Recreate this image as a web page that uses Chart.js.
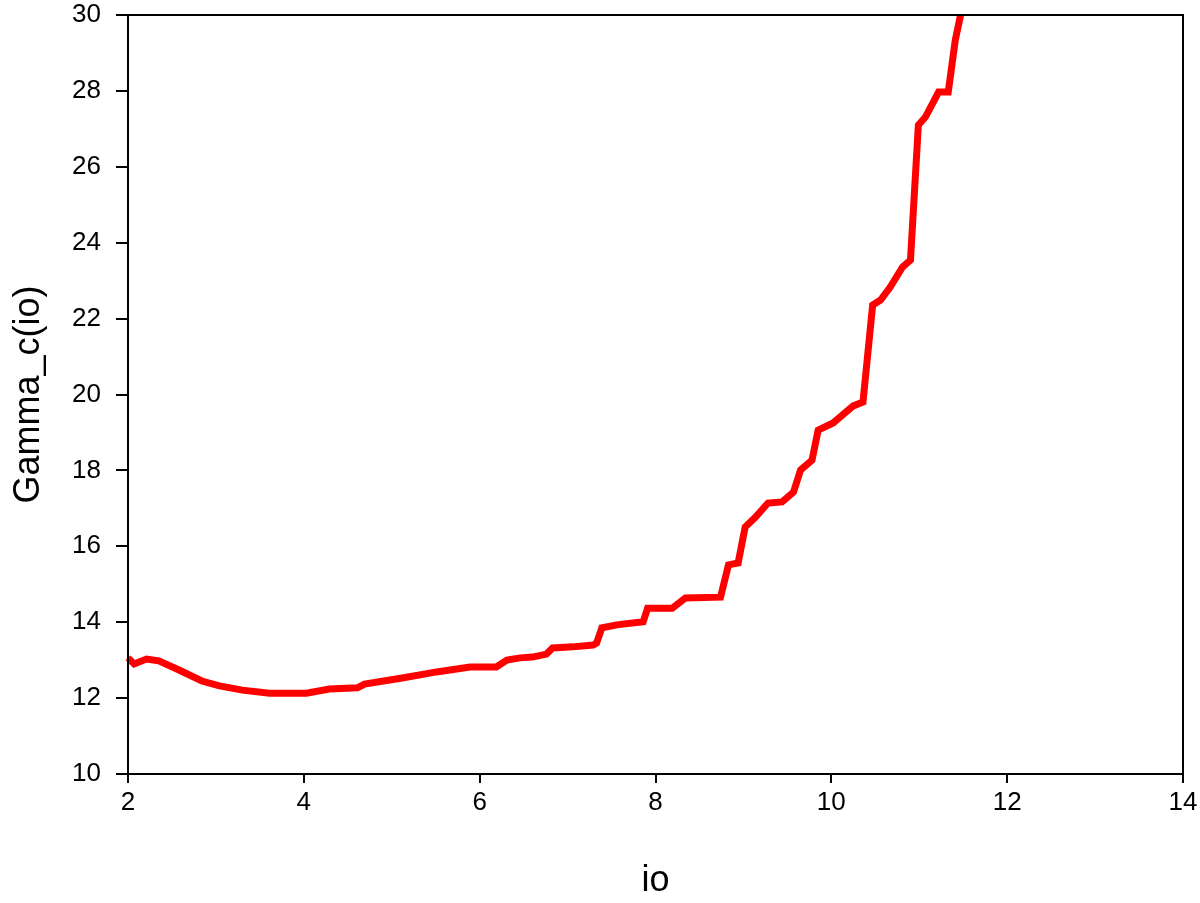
<!DOCTYPE html>
<html lang="en">
<head>
  <meta charset="UTF-8">
  <title>Gamma_c(io)</title>
  <script src="https://cdn.jsdelivr.net/npm/chart.js"></script>
  <style>
    body { margin: 0; background: #fff; }
    #wrap { position: relative; width: 1200px; height: 903px; }
  </style>
</head>
<body>
  <div id="wrap"><canvas id="gammaChart"></canvas></div>
  <script>
    // values
    const ioValues = [2.0, 2.07, 2.21, 2.35, 2.58, 2.84, 3.04, 3.30, 3.61, 4.03, 4.29, 4.61, 4.69,
      5.12, 5.51, 5.89, 6.19, 6.31, 6.46, 6.60, 6.76, 6.83, 7.06, 7.29, 7.33, 7.39, 7.56, 7.86,
      7.91, 8.19, 8.34, 8.74, 8.83, 8.94, 9.02, 9.13, 9.28, 9.44, 9.57, 9.65, 9.78, 9.85, 10.02,
      10.25, 10.36, 10.47, 10.56, 10.67, 10.81, 10.90, 10.99, 11.07, 11.22, 11.33, 11.41, 11.47];
    const gammaValues = [13.06, 12.90, 13.03, 12.98, 12.74, 12.45, 12.32, 12.21, 12.13, 12.13, 12.24, 12.27, 12.37,
      12.53, 12.69, 12.82, 12.82, 13.00, 13.06, 13.08, 13.16, 13.32, 13.35, 13.40, 13.45, 13.85, 13.93, 14.01,
      14.37, 14.37, 14.64, 14.66, 15.51, 15.56, 16.51, 16.75, 17.14, 17.17, 17.43, 18.01, 18.27, 19.06, 19.25,
      19.70, 19.80, 22.36, 22.49, 22.83, 23.36, 23.54, 27.10, 27.31, 27.97, 27.97, 29.34, 30.00];
    const xTicks = [2, 4, 6, 8, 10, 12, 14];
    const yTicks = [10, 12, 14, 16, 18, 20, 22, 24, 26, 28, 30];

    const points = ioValues.map((x, i) => ({ x: x, y: gammaValues[i] }));

    // box around the plot area
    const frame = {
      id: 'frame',
      afterDraw(chart) {
        const a = chart.chartArea, c = chart.ctx;
        c.save();
        c.strokeStyle = '#000';
        c.lineWidth = 2;
        c.strokeRect(a.left, a.top, a.right - a.left, a.bottom - a.top);
        c.restore();
      }
    };

    const tickFont = { family: 'Arial, "Liberation Sans", sans-serif', size: 26 };
    const titleFont = { family: 'Arial, "Liberation Sans", sans-serif', size: 36 };

    new Chart(document.getElementById('gammaChart'), {
      type: 'scatter',
      data: {
        datasets: [{
          data: points,
          showLine: true,
          borderColor: '#ff0000',
          borderWidth: 7,
          pointRadius: 0,
          tension: 0,
          clip: false
        }]
      },
      options: {
        responsive: true,
        maintainAspectRatio: false,
        animation: false,
        layout: { padding: { top: 15, right: 17, left: 0, bottom: 0 } },
        plugins: { legend: { display: false }, tooltip: { enabled: false } },
        scales: {
          x: {
            type: 'linear',
            min: 2, max: 14,
            afterBuildTicks: s => { s.ticks = xTicks.map(v => ({ value: v })); },
            afterFit: s => { s.height = 129; s.paddingLeft = 0; s.paddingRight = 0; },
            grid: { drawOnChartArea: false, drawTicks: true, tickLength: 9, color: '#000', lineWidth: 2 },
            border: { display: true, color: '#000', width: 2 },
            ticks: { color: '#000', font: tickFont, padding: 4, maxRotation: 0 },
            title: { display: true, text: 'io', color: '#000', font: titleFont, padding: { top: 20, bottom: 0 } }
          },
          y: {
            type: 'linear',
            min: 10, max: 30,
            afterBuildTicks: s => { s.ticks = yTicks.map(v => ({ value: v })); },
            afterFit: s => { s.width = 128; s.paddingTop = 0; s.paddingBottom = 0; },
            grid: { drawOnChartArea: false, drawTicks: true, tickLength: 12, color: '#000', lineWidth: 2 },
            border: { display: true, color: '#000', width: 2 },
            ticks: { color: '#000', font: tickFont, padding: 15 },
            title: { display: true, text: 'Gamma_c(io)', color: '#000', font: titleFont, padding: { top: 7, bottom: 0 } }
          }
        }
      },
      plugins: [frame]
    });
  </script>
</body>
</html>
